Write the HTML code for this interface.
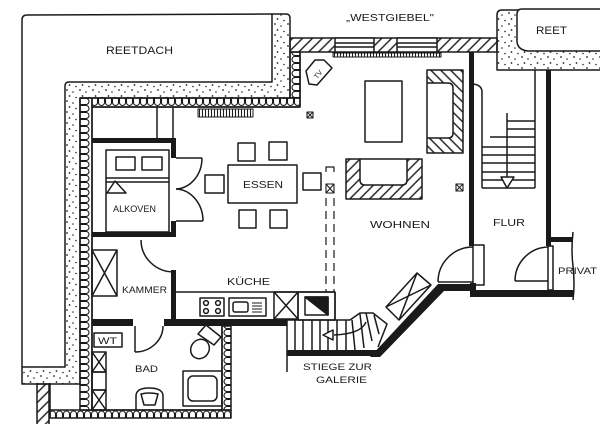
<!DOCTYPE html>
<html><head><meta charset="utf-8">
<style>
html,body{margin:0;padding:0;background:#fff;}
svg{display:block;}
text{font-family:"Liberation Sans",sans-serif;fill:#1a1a1a;}
</style></head><body>
<svg width="600" height="424" viewBox="0 0 600 424" xmlns="http://www.w3.org/2000/svg">
<defs>
<pattern id="dots" width="13" height="11" patternUnits="userSpaceOnUse">
<circle cx="2" cy="2" r="0.9" fill="#222"/>
<circle cx="8" cy="4" r="0.8" fill="#222"/>
<circle cx="4.5" cy="8" r="0.9" fill="#222"/>
<circle cx="11" cy="9.5" r="0.8" fill="#222"/>
</pattern>
<pattern id="hatch" width="7" height="7" patternUnits="userSpaceOnUse" patternTransform="rotate(45)">
<line x1="3" y1="0" x2="3" y2="7" stroke="#1a1a1a" stroke-width="1.4"/>
</pattern>
<pattern id="hatch2" width="7" height="7" patternUnits="userSpaceOnUse" patternTransform="rotate(-45)">
<line x1="3" y1="0" x2="3" y2="7" stroke="#1a1a1a" stroke-width="1.4"/>
</pattern>
<pattern id="scT" x="0" y="98" width="7" height="9" patternUnits="userSpaceOnUse">
<path d="M0.5,0 V4.5 A3,3 0 0 0 6.5,4.5 V0" fill="none" stroke="#1a1a1a" stroke-width="1.1"/>
</pattern>
<pattern id="scB" x="0" y="410" width="7" height="8" patternUnits="userSpaceOnUse">
<path d="M0.5,8 V4 A3,3 0 0 1 6.5,4 V8" fill="none" stroke="#1a1a1a" stroke-width="1.1"/>
</pattern>
<pattern id="scL" x="80" y="0" width="12" height="7" patternUnits="userSpaceOnUse">
<path d="M0,0.5 H6 A3,3 0 0 1 6,6.5 H0" fill="none" stroke="#1a1a1a" stroke-width="1.1"/>
</pattern>
<pattern id="scR" x="290" y="0" width="10" height="7" patternUnits="userSpaceOnUse">
<path d="M10,0.5 H5 A3,3 0 0 0 5,6.5 H10" fill="none" stroke="#1a1a1a" stroke-width="1.1"/>
</pattern>
<pattern id="scBa" x="222" y="0" width="9" height="7" patternUnits="userSpaceOnUse">
<path d="M9,0.5 H5 A3,3 0 0 0 5,6.5 H9" fill="none" stroke="#1a1a1a" stroke-width="1.1"/>
</pattern>
<pattern id="rad" x="0" y="0" width="3" height="10" patternUnits="userSpaceOnUse">
<line x1="1.5" y1="0" x2="1.5" y2="10" stroke="#1a1a1a" stroke-width="1.1"/>
</pattern>
</defs>

<g fill="none" stroke="#1a1a1a" stroke-width="1.5" stroke-linejoin="round">
<path d="M272,14 L27,15 Q22,15 22,20 L22,367"/>
<path d="M272,14 L286,14 Q290,14 290,18 L290,98 L80,98 L80,384 L22,384 L22,367 L65,367 L65,86 Q65,82 69,82 L272,82 Z" fill="url(#dots)"/>
<rect x="92" y="98" width="208" height="9" fill="url(#scT)"/>
<rect x="80" y="98" width="12" height="312" fill="url(#scL)"/>
<rect x="290" y="52" width="10" height="46" fill="url(#scR)"/>
<rect x="50" y="410" width="181" height="8" fill="url(#scB)"/>
<rect x="222" y="326" width="9" height="84" fill="url(#scBa)"/>
<line x1="50" y1="384" x2="50" y2="418"/>
<rect x="37" y="384" width="12" height="42" fill="url(#hatch)"/>
<rect x="290" y="38" width="207" height="14" fill="url(#hatch)"/>
<rect x="335" y="38" width="39" height="14" fill="#fff"/>
<rect x="397" y="38" width="40" height="14" fill="#fff"/>
<line x1="335" y1="43" x2="374" y2="43"/><line x1="335" y1="47" x2="374" y2="47"/>
<line x1="397" y1="43" x2="437" y2="43"/><line x1="397" y1="47" x2="437" y2="47"/>
<rect x="333" y="53" width="108" height="4" fill="url(#rad)" stroke-width="1"/>
<rect x="198" y="109" width="55" height="8" fill="url(#rad)" stroke-width="1"/>

<path d="M600,10 L502,10 Q497,10 497,15 L497,70 L600,70" fill="url(#dots)"/>
<path d="M600,9 L522,9 Q517,9 517,14 L517,42 Q518,50 528,51 L600,51" fill="#fff"/>

<line x1="157" y1="107" x2="157" y2="139"/>
<line x1="173" y1="107" x2="173" y2="139"/>

<rect x="106" y="150" width="63" height="82"/>
<rect x="116" y="157" width="19" height="13"/>
<rect x="142" y="157" width="20" height="13"/>
<line x1="106" y1="178" x2="169" y2="178"/>
<line x1="106" y1="182" x2="169" y2="182"/>
<path d="M115,181 L107,193 L126,193 Z"/>
<line x1="176" y1="158" x2="202" y2="158"/>
<path d="M202,158 A27,31 0 0 1 176,189"/>
<line x1="176" y1="221" x2="203" y2="221"/>
<path d="M203,221 A28,32 0 0 0 176,189"/>

<rect x="92" y="250" width="25" height="46"/>
<line x1="92" y1="250" x2="117" y2="296"/><line x1="117" y1="250" x2="92" y2="296"/>
<path d="M141,240 A33,32 0 0 0 174,272"/>

<rect x="228" y="165" width="69" height="38"/>
<rect x="238" y="143" width="17" height="18"/>
<rect x="269" y="142" width="18" height="18"/>
<rect x="239" y="210" width="17" height="18"/>
<rect x="270" y="210" width="17" height="18"/>
<rect x="205" y="175" width="19" height="18"/>
<rect x="303" y="173" width="18" height="17"/>

<rect x="307" y="112" width="6" height="6" stroke-width="1.1"/>
<path d="M307,112 L313,118 M313,112 L307,118" stroke-width="1"/>
<rect x="456" y="184" width="7" height="7" stroke-width="1.1"/>
<path d="M456,184 L463,191 M463,184 L456,191" stroke-width="1"/>
<rect x="326" y="184" width="8" height="9" stroke-width="1.1"/>
<path d="M326,184 L334,193 M334,184 L326,193" stroke-width="1"/>

<path d="M326,172 V167 H334 V172" stroke-width="1.2"/>
<line x1="326" y1="198" x2="326" y2="292" stroke-dasharray="8 5" stroke-width="1.2"/>
<line x1="334" y1="198" x2="334" y2="292" stroke-dasharray="8 5" stroke-width="1.2"/>

<path d="M306,71 L315,60 L324,60 L332,68 L317,85 L309,84 Z"/>

<rect x="365" y="81" width="37" height="61"/>
<path d="M427,70 H463 V153 H427 Z M427,83 H448 Q453,83 453,88 V133 Q453,138 448,138 H427 Z" fill="url(#hatch2)" fill-rule="evenodd"/>
<path d="M346,159 H422 V199 H346 Z M360,159 V180 Q360,185 365,185 H402 Q407,185 407,180 V159 Z" fill="url(#hatch)" fill-rule="evenodd"/>

<line x1="535" y1="70" x2="535" y2="188"/>
<path d="M473,84 Q482,85 482,92 L482,188"/>
<line x1="507" y1="121" x2="535" y2="121"/>
<line x1="507" y1="129" x2="535" y2="129"/>
<line x1="490" y1="137" x2="535" y2="137"/>
<line x1="482" y1="147" x2="535" y2="147"/>
<line x1="482" y1="155" x2="535" y2="155"/>
<line x1="482" y1="163" x2="535" y2="163"/>
<line x1="482" y1="172" x2="535" y2="172"/>
<line x1="482" y1="180" x2="535" y2="180"/>
<line x1="482" y1="188" x2="535" y2="188"/>
<line x1="507" y1="113" x2="507" y2="177"/>
<path d="M501,177 L514,177 L507,188 Z" fill="#fff"/>

<rect x="473" y="245" width="11" height="40"/>
<line x1="438" y1="282" x2="473" y2="282"/>
<path d="M438,282 A35,35 0 0 1 473,247"/>
<rect x="548" y="246" width="5" height="44"/>
<line x1="515" y1="281" x2="548" y2="281"/>
<path d="M515,281 A34,34 0 0 1 548,247"/>
<path d="M573,232 Q571,250 573,266 Q575,284 573,300"/>

<line x1="176" y1="292" x2="335" y2="292"/>
<line x1="335" y1="292" x2="335" y2="320"/>
<rect x="200" y="298" width="24" height="18"/>
<circle cx="206" cy="303" r="2.4"/><circle cx="218" cy="303" r="2.4"/>
<circle cx="206" cy="311" r="2.4"/><circle cx="218" cy="311" r="2.4"/>
<rect x="229" y="298" width="37" height="18"/>
<rect x="233" y="302" width="15" height="10" rx="2"/>
<path d="M252,303 H262 M252,306 H262 M252,309 H262 M252,312 H262" stroke-width="1"/>
<rect x="274" y="292" width="24" height="27"/>
<path d="M274,292 L298,319 M298,292 L274,319"/>
<rect x="298" y="292" width="37" height="28"/>
<rect x="305" y="297" width="23" height="18"/>
<path d="M305,297 L328,297 L328,315 Z" fill="#1a1a1a"/>

<line x1="287" y1="320" x2="350" y2="320"/>
<line x1="287" y1="320" x2="287" y2="372"/>
<path d="M350,320 L360,313 L373,313 L387,324 L378,347"/>
<path d="M295,320 V350 M303,320 V350 M312,320 V350 M320,320 V350 M328,320 V350 M337,320 V350 M346,320 V350"/>
<path d="M352,320 L355,350 M360,314 L364,348 M366,313 L372,341 M374,315 L379,334"/>
<path d="M366,322 Q361,334 334,335"/>
<path d="M323,335 L333,330 L333,340 Z" fill="#fff"/>
<path d="M386,307 L417,273 L431,285 L399,320 Z"/>
<path d="M386,307 L431,285 M417,273 L399,320"/>

<rect x="94" y="333" width="28" height="14"/>
<rect x="92" y="352" width="14" height="20"/>
<path d="M92,352 L106,372 M106,352 L92,372"/>
<rect x="92" y="372" width="14" height="18"/>
<rect x="92" y="390" width="14" height="20"/>
<path d="M92,390 L106,410 M106,390 L92,410"/>
<line x1="135" y1="326" x2="135" y2="352"/>
<path d="M135,352 A28,26 0 0 0 163,326"/>
<path d="M198,334 L206,325 L221,337 L214,345 Z"/>
<ellipse cx="200" cy="349" rx="9" ry="10" transform="rotate(35 200 349)"/>
<rect x="183" y="371" width="39" height="35"/>
<rect x="188" y="376" width="29" height="25" rx="5"/>
<path d="M136,410 V396 Q136,388 149,388 Q163,388 163,396 V410"/>
<path d="M141,394 Q149,392 158,394 L155,405 H144 Z"/>

<line x1="92" y1="107" x2="92" y2="410"/>
<line x1="92" y1="107" x2="300" y2="107"/>
<line x1="300" y1="52" x2="300" y2="107"/>
<line x1="92" y1="410" x2="222" y2="410"/>
<line x1="222" y1="326" x2="222" y2="410"/>
</g>

<g fill="#1a1a1a">
<rect x="92" y="138" width="83" height="5"/>
<rect x="171" y="138" width="5" height="20"/>
<rect x="171" y="221" width="5" height="16"/>
<rect x="92" y="232" width="84" height="5"/>
<rect x="171" y="270" width="5" height="50"/>
<rect x="92" y="319" width="41" height="7"/>
<rect x="164" y="319" width="123" height="7"/>
<rect x="287" y="350" width="90" height="6"/>
<polygon points="370,357 380,357 444,291 438,284"/>
<rect x="438" y="284" width="38" height="7"/>
<rect x="469" y="52" width="5" height="194"/>
<rect x="470" y="283" width="6" height="14"/>
<rect x="470" y="290" width="103" height="7"/>
<rect x="546" y="70" width="5" height="176"/>
<rect x="551" y="237" width="22" height="5"/>
</g>

<text x="106" y="54" font-size="11" textLength="67" lengthAdjust="spacingAndGlyphs">REETDACH</text>
<text x="346" y="21" font-size="10" textLength="88" lengthAdjust="spacingAndGlyphs">„WESTGIEBEL"</text>
<text x="536" y="34" font-size="11" textLength="31" lengthAdjust="spacingAndGlyphs">REET</text>
<text x="243" y="188" font-size="10" textLength="40" lengthAdjust="spacingAndGlyphs">ESSEN</text>
<text x="113" y="212" font-size="9.5" textLength="43" lengthAdjust="spacingAndGlyphs">ALKOVEN</text>
<text x="370" y="228" font-size="10.5" textLength="60" lengthAdjust="spacingAndGlyphs">WOHNEN</text>
<text x="493" y="226" font-size="10" textLength="32" lengthAdjust="spacingAndGlyphs">FLUR</text>
<text x="227" y="285" font-size="10" textLength="43" lengthAdjust="spacingAndGlyphs">KÜCHE</text>
<text x="122" y="293" font-size="9.5" textLength="45" lengthAdjust="spacingAndGlyphs">KAMMER</text>
<text x="98" y="344" font-size="9" textLength="19" lengthAdjust="spacingAndGlyphs">WT</text>
<text x="135" y="372" font-size="9.5" textLength="23" lengthAdjust="spacingAndGlyphs">BAD</text>
<text x="558" y="274" font-size="9.5" textLength="39" lengthAdjust="spacingAndGlyphs">PRIVAT</text>
<text x="303" y="370" font-size="9" textLength="69" lengthAdjust="spacingAndGlyphs">STIEGE ZUR</text>
<text x="316" y="383" font-size="9" textLength="51" lengthAdjust="spacingAndGlyphs">GALERIE</text>
<text x="0" y="0" font-size="7" transform="translate(320,76) rotate(-50)" text-anchor="middle">TV</text>
</svg>
</body></html>
